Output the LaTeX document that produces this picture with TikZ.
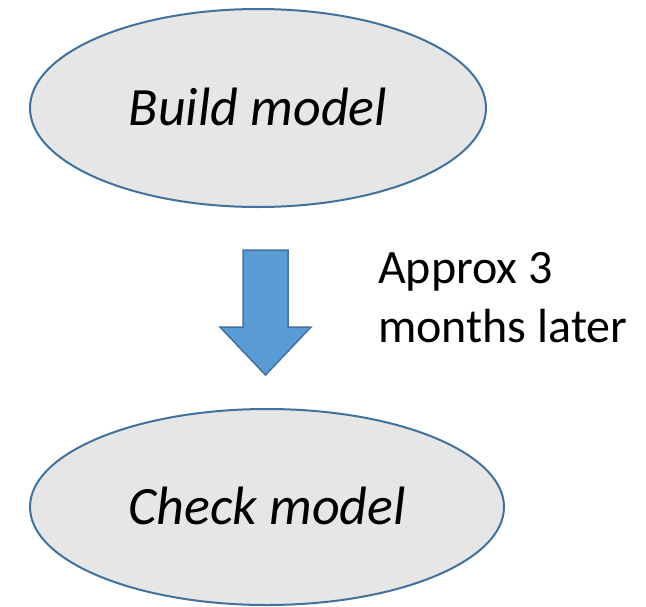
\documentclass[tikz,border=0pt]{standalone}
\usepackage{fontspec}
\setmainfont{Carlito}
\usetikzlibrary{shapes.geometric}
\definecolor{ellfill}{HTML}{E6E6E6}
\definecolor{ellline}{HTML}{41719C}
\definecolor{arrfill}{HTML}{5B9BD5}
\tikzset{
  stagebox/.style={ellipse, draw=ellline, fill=ellfill, line width=2pt, inner sep=0pt,
    font=\fontsize{54}{65}\selectfont\itshape, text height=35pt, text depth=0pt},
  blockarrow/.style={draw=ellline, fill=arrfill, line width=1.5pt, line join=miter},
  notetext/.style={font=\fontsize{48}{59}\selectfont, align=left, inner sep=0pt, anchor=north west}
}
\begin{document}
\begin{tikzpicture}[x=1pt,y=-1pt]
\useasboundingbox (0,0) rectangle (646,606);
\node[stagebox, minimum width=456pt, minimum height=198pt] (build) at (258,108) {Build model};
\node[stagebox, minimum width=474pt, minimum height=196pt] (check) at (267,507) {Check model};
\draw[blockarrow] (243,250) -- (288,250) -- (288,327) -- (311,327) -- (265.5,375) -- (220,327) -- (243,327) -- cycle;
\node[notetext] (note) at (378,252) {Approx 3\\months later};
\end{tikzpicture}
\end{document}
